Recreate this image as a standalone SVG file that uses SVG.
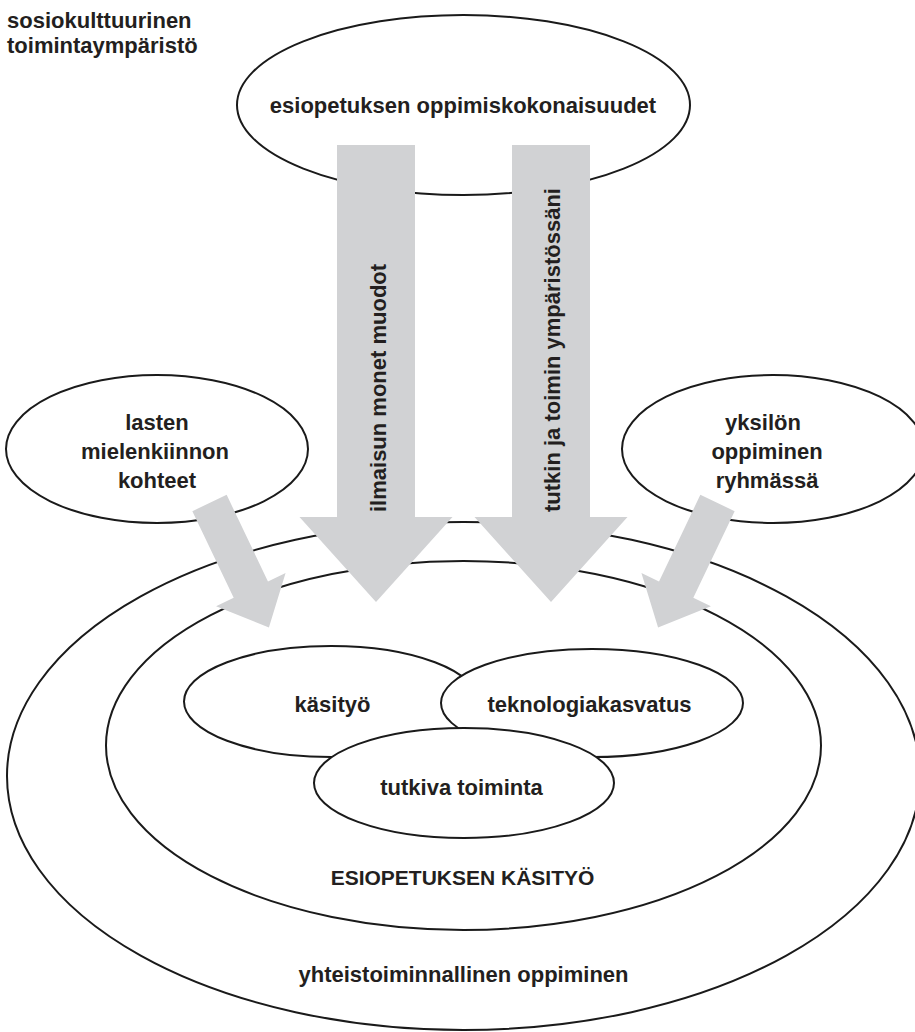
<svg xmlns="http://www.w3.org/2000/svg" width="915" height="1032" viewBox="0 0 915 1032">
  <style>
    .el { fill: #ffffff; stroke: #1a1a1a; stroke-width: 2; }
    .arr { fill: #d1d2d4; stroke: none; }
    .t { font-family: "Liberation Sans", Arial, sans-serif; font-weight: bold; font-size: 22px; fill: #231f20; }
    .c { text-anchor: middle; }
  </style>
  <defs>
    <polygon id="bigArrow" points="-39,0 39,0 39,372 76.5,372 0,457 -76.5,372 -39,372"/>
    <polygon id="smallArrow" points="-19,0 19,0 19,96 38.5,96 0,138 -38.5,96 -19,96"/>
  </defs>
  <rect width="915" height="1032" fill="#ffffff"/>

  <g id="context-label">
    <text class="t" x="7" y="28">sosiokulttuurinen</text>
    <text class="t" x="7" y="53">toimintaympäristö</text>
  </g>

  <g id="yhteistoiminnallinen-oppiminen">
    <ellipse class="el" cx="463.5" cy="776" rx="456.5" ry="254"/>
    <text class="t c" x="463.5" y="982">yhteistoiminnallinen oppiminen</text>
  </g>

  <g id="esiopetuksen-kasityo">
    <ellipse class="el" cx="463.5" cy="745.5" rx="357.5" ry="184.5"/>
    <text class="t c" x="462.5" y="885" style="font-size:21px">ESIOPETUKSEN KÄSITYÖ</text>
  </g>

  <g id="kasityo">
    <ellipse class="el" cx="331" cy="701.5" rx="147" ry="55.5"/>
  </g>
  <g id="teknologiakasvatus">
    <ellipse class="el" cx="592" cy="703" rx="151" ry="54"/>
  </g>
  <g id="tutkiva-toiminta">
    <ellipse class="el" cx="464" cy="783" rx="150" ry="55"/>
  </g>
  <text class="t c" x="332.5" y="712">käsityö</text>
  <text class="t c" x="589.5" y="712">teknologiakasvatus</text>
  <text class="t c" x="461.5" y="795">tutkiva toiminta</text>

  <g id="oppimiskokonaisuudet">
    <ellipse class="el" cx="463.5" cy="105" rx="226.5" ry="90"/>
    <text class="t c" x="463" y="113">esiopetuksen oppimiskokonaisuudet</text>
  </g>

  <g id="lasten-mielenkiinnon-kohteet">
    <ellipse class="el" cx="157" cy="449" rx="151" ry="74"/>
    <text class="t c" x="157" y="430">lasten</text>
    <text class="t c" x="155" y="459">mielenkiinnon</text>
    <text class="t c" x="157" y="488">kohteet</text>
  </g>

  <g id="yksilon-oppiminen-ryhmassa">
    <ellipse class="el" cx="773" cy="449" rx="151" ry="74"/>
    <text class="t c" x="763" y="430">yksilön</text>
    <text class="t c" x="767" y="459">oppiminen</text>
    <text class="t c" x="767" y="488">ryhmässä</text>
  </g>

  <g id="connectors">
    <use href="#bigArrow" class="arr" transform="translate(376,145)"/>
    <use href="#bigArrow" class="arr" transform="translate(551,145)"/>
    <use href="#smallArrow" class="arr" transform="translate(209.5,503) rotate(-25.5)"/>
    <use href="#smallArrow" class="arr" transform="translate(717.5,503) rotate(25.5)"/>
    <text class="t" transform="translate(386,512) rotate(-90)">ilmaisun monet muodot</text>
    <text class="t" transform="translate(560,512) rotate(-90)">tutkin ja toimin ympäristössäni</text>
  </g>
</svg>
